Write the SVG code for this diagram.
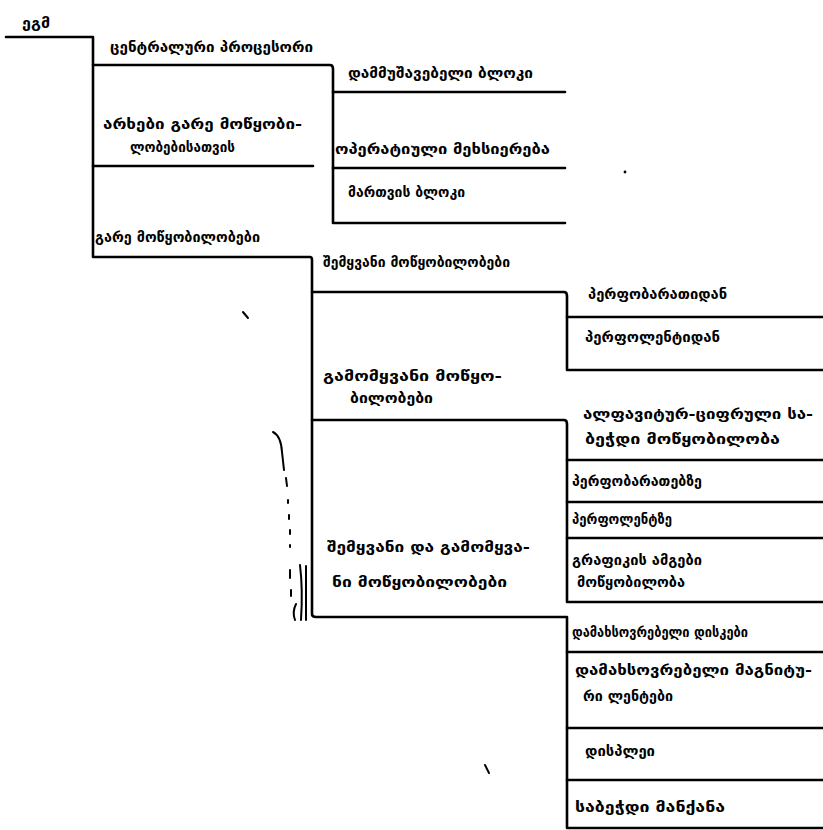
<svg xmlns="http://www.w3.org/2000/svg" width="823" height="830" viewBox="0 0 823 830">
  <style>
    .ln { fill: none; stroke: #000; stroke-width: 2.6; stroke-linejoin: round; stroke-linecap: round; }
    .mk { fill: none; stroke: #000; stroke-width: 2; stroke-linecap: round; }
    .t { font-family: "DejaVu Sans", "Noto Sans", sans-serif; font-size: 14px; font-weight: bold; fill: #000; }
  </style>
  <rect width="823" height="830" fill="#fff"/>

  <!-- tree connectors -->
  <g id="connectors">
    <!-- root stem and main spine -->
    <path class="ln" d="M6,37 H93 V257 H310 Q312,257 312,260 V614 Q312,617 316,617 H567 V828 H823"/>
    <!-- central processor bracket -->
    <path class="ln" d="M93,65 H330 Q333,65 333,69 V223 H565"/>
    <path class="ln" d="M333,92 H565"/>
    <path class="ln" d="M333,168 H565"/>
    <!-- channels divider -->
    <path class="ln" d="M93,166 H313"/>
    <!-- input devices bracket -->
    <path class="ln" d="M312,292 H564 Q567,292 567,296 V370 H823"/>
    <path class="ln" d="M567,317 H823"/>
    <!-- output devices bracket -->
    <path class="ln" d="M312,420 H564 Q567,420 567,424 V602 H823"/>
    <path class="ln" d="M567,460 H823"/>
    <path class="ln" d="M567,502 H823"/>
    <path class="ln" d="M567,538 H823"/>
    <!-- input/output devices rows -->
    <path class="ln" d="M567,652 H823"/>
    <path class="ln" d="M567,728 H823"/>
    <path class="ln" d="M567,780 H823"/>
  </g>

  <!-- root -->
  <g id="n-root">
    <text class="t" x="22" y="28" textLength="28" lengthAdjust="spacingAndGlyphs">ეგმ</text>
  </g>

  <!-- central processor -->
  <g id="n-cpu">
    <text class="t" x="110" y="52" textLength="203" lengthAdjust="spacingAndGlyphs">ცენტრალური პროცესორი</text>
  </g>
  <g id="n-alu">
    <text class="t" x="348" y="78" textLength="185" lengthAdjust="spacingAndGlyphs">დამმუშავებელი ბლოკი</text>
  </g>
  <g id="n-ram">
    <text class="t" x="335" y="154" textLength="215" lengthAdjust="spacingAndGlyphs">ოპერატიული მეხსიერება</text>
  </g>
  <g id="n-ctrl">
    <text class="t" x="348" y="197" textLength="117" lengthAdjust="spacingAndGlyphs">მართვის ბლოკი</text>
  </g>

  <!-- channels -->
  <g id="n-channels">
    <text class="t" x="103" y="129" textLength="199" lengthAdjust="spacingAndGlyphs">არხები გარე მოწყობი-</text>
    <text class="t" x="130" y="152" textLength="105" lengthAdjust="spacingAndGlyphs">ლობებისათვის</text>
  </g>

  <!-- peripheral devices -->
  <g id="n-periph">
    <text class="t" x="95" y="242" textLength="165" lengthAdjust="spacingAndGlyphs">გარე მოწყობილობები</text>
  </g>

  <!-- input devices -->
  <g id="n-input">
    <text class="t" x="323" y="267" textLength="187" lengthAdjust="spacingAndGlyphs">შემყვანი მოწყობილობები</text>
  </g>
  <g id="n-in-card">
    <text class="t" x="588" y="299" textLength="139" lengthAdjust="spacingAndGlyphs">პერფობარათიდან</text>
  </g>
  <g id="n-in-tape">
    <text class="t" x="585" y="342" textLength="135" lengthAdjust="spacingAndGlyphs">პერფოლენტიდან</text>
  </g>

  <!-- output devices -->
  <g id="n-output">
    <text class="t" x="323" y="381" textLength="179" lengthAdjust="spacingAndGlyphs">გამომყვანი მოწყო-</text>
    <text class="t" x="350" y="403" textLength="83" lengthAdjust="spacingAndGlyphs">ბილობები</text>
  </g>
  <g id="n-out-printer">
    <text class="t" x="583" y="419" textLength="230" lengthAdjust="spacingAndGlyphs">ალფავიტურ-ციფრული სა-</text>
    <text class="t" x="585" y="444" textLength="195" lengthAdjust="spacingAndGlyphs">ბეჭდი მოწყობილობა</text>
  </g>
  <g id="n-out-card">
    <text class="t" x="572" y="486" textLength="130" lengthAdjust="spacingAndGlyphs">პერფობარათებზე</text>
  </g>
  <g id="n-out-tape">
    <text class="t" x="572" y="524" textLength="100" lengthAdjust="spacingAndGlyphs">პერფოლენტზე</text>
  </g>
  <g id="n-out-plotter">
    <text class="t" x="572" y="565" textLength="130" lengthAdjust="spacingAndGlyphs">გრაფიკის ამგები</text>
    <text class="t" x="577" y="587" textLength="108" lengthAdjust="spacingAndGlyphs">მოწყობილობა</text>
  </g>

  <!-- input/output devices -->
  <g id="n-io">
    <text class="t" x="327" y="552" textLength="203" lengthAdjust="spacingAndGlyphs">შემყვანი და გამომყვა-</text>
    <text class="t" x="332" y="587" textLength="175" lengthAdjust="spacingAndGlyphs">ნი მოწყობილობები</text>
  </g>
  <g id="n-io-disk">
    <text class="t" x="572" y="637" textLength="176" lengthAdjust="spacingAndGlyphs">დამახსოვრებელი დისკები</text>
  </g>
  <g id="n-io-mtape">
    <text class="t" x="575" y="675" textLength="237" lengthAdjust="spacingAndGlyphs">დამახსოვრებელი მაგნიტუ-</text>
    <text class="t" x="583" y="701" textLength="90" lengthAdjust="spacingAndGlyphs">რი ლენტები</text>
  </g>
  <g id="n-io-display">
    <text class="t" x="585" y="756" textLength="70" lengthAdjust="spacingAndGlyphs">დისპლეი</text>
  </g>
  <g id="n-io-typewriter">
    <text class="t" x="575" y="812" textLength="150" lengthAdjust="spacingAndGlyphs">საბეჭდი მანქანა</text>
  </g>

  <!-- stray pen marks in the margins -->
  <g id="marks">
    <path class="mk" d="M243,312 L248,318"/>
    <circle cx="625" cy="172" r="1.4" fill="#000"/>
    <path class="mk" d="M485,765 L489,773"/>
    <path class="mk" d="M273,432 Q281,436 282,452 L284,470"/>
    <path class="mk" d="M286,478 L287,486 M288,500 L288,503 M289,515 L289,519 M290,530 L290,534 M290,545 L290,547"/>
    <path class="mk" d="M290,570 L290,578 M291,590 L291,596"/>
    <path class="mk" d="M300,565 Q303,590 301,620"/>
    <path class="mk" d="M306,566 L306,620"/>
    <path class="mk" d="M296,604 Q292,612 295,620"/>
  </g>
</svg>
